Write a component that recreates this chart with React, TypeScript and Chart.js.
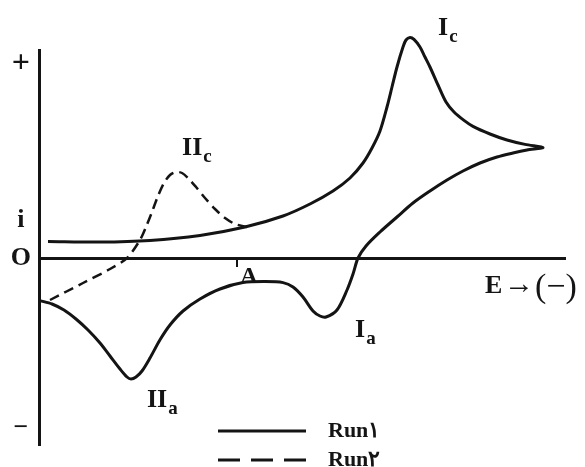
import { useEffect, useRef } from "react";
import { Chart, registerables } from "chart.js";

Chart.register(...registerables);

// Run 1 (solid): forward scan then reverse scan. E and i in arbitrary units.
const run1E = [
  1.71, 11.6, 21.1, 30.61, 39.16, 46.39, 51.52, 55.89, 59.13, 61.6, 63.31, 64.83, 66.16, 67.11,
  68.06, 69.2, 69.77, 70.53, 71.29, 72.43, 73.38, 74.33, 75.86, 77.38, 78.9, 80.8, 82.51, 85.74,
  88.97, 92.4, 95.82,
  92.78, 90.11, 87.07, 83.84, 80.61, 77.57, 74.33, 71.1, 68.06, 64.83, 62.17, 60.65, 59.7, 58.56,
  56.65, 54.56, 53.42, 52.09, 50.19, 48.29, 46.39, 42.97, 38.78, 34.41, 30.61, 27.38, 24.9, 22.98,
  21.1, 19.58, 18.44, 17.49, 16.73, 15.4, 13.5, 11.6, 9.32, 7.03, 4.75, 2.47, 0.19,
];
const run1I = [
  0.83, 0.8, 0.88, 1.13, 1.55, 2.1, 2.7, 3.35, 4.0, 4.75, 5.5, 6.35, 7.55, 8.55,
  9.55, 10.55, 10.9, 11.03, 10.93, 10.55, 10.05, 9.55, 8.65, 7.8, 7.3, 6.88, 6.58, 6.2,
  5.9, 5.68, 5.53,
  5.4, 5.25, 5.05, 4.75, 4.35, 3.9, 3.35, 2.75, 2.05, 1.3, 0.6, 0, -0.8, -1.6,
  -2.6, -2.95, -2.9, -2.65, -1.95, -1.45, -1.23, -1.18, -1.23, -1.55, -2.05, -2.65, -3.35, -4.1,
  -5.0, -5.65, -5.95, -6.05, -5.95, -5.55, -4.9, -4.25, -3.6, -3.05, -2.6, -2.3, -2.13,
];

// Run 2 (dashed)
const run2E = [
  2.09, 8.37, 13.5, 16.73, 19.2, 20.34, 21.48, 22.62, 23.76, 24.9, 26.05, 27.19, 28.33, 29.85,
  31.56, 33.46, 35.37, 37.27, 39.54,
];
const run2I = [
  -2.1, -1.25, -0.55, 0, 0.9, 1.55, 2.3, 3.1, 3.75, 4.15, 4.3, 4.25, 4.0, 3.55,
  3.0, 2.45, 2.0, 1.7, 1.55,
];

const seriesNames = ["Run۱", "Run۲"];

const yTickValues = [9.7, 1.9, 0, -8.5];
const yTickLabels = ["+", "i", "O", "−"];
const xTickValues = [37.64];
const xTickLabels = ["A"];

const peakLabels = [
  { main: "I", sub: "c", e: 75.86, i: 11.15 },
  { main: "II", sub: "c", e: 27.19, i: 5.15 },
  { main: "I", sub: "a", e: 60.08, i: -3.95 },
  { main: "II", sub: "a", e: 20.53, i: -7.45 },
];
const axisTitleMain = "E";
const axisTitleArrow = "→";
const axisTitleSign = "(−)";

const INK = "#141414";
const SERIF = '"Liberation Serif", "DejaVu Serif", serif';

const annotate = {
  id: "annotate",
  afterDraw(chart: any) {
    const { ctx, scales, chartArea } = chart;
    const x = scales.x;
    const y = scales.y;
    ctx.save();
    ctx.fillStyle = INK;
    ctx.textBaseline = "alphabetic";
    ctx.textAlign = "left";
    for (const p of peakLabels) {
      const px = x.getPixelForValue(p.e);
      const py = y.getPixelForValue(p.i);
      ctx.font = `bold 26px ${SERIF}`;
      ctx.fillText(p.main, px, py);
      const w = ctx.measureText(p.main).width;
      ctx.font = `bold 19px ${SERIF}`;
      ctx.fillText(p.sub, px + w + 1, py + 7);
    }
    const y0 = y.getPixelForValue(0);
    ctx.font = `bold 26px ${SERIF}`;
    ctx.fillText(axisTitleMain, chartArea.right - 80, y0 + 35);
    ctx.font = `bold 30px ${SERIF}`;
    ctx.fillText(axisTitleArrow, chartArea.right - 61, y0 + 35);
    ctx.font = `34px ${SERIF}`;
    ctx.fillText(axisTitleSign, chartArea.right - 30, y0 + 39);

    // legend
    const rows = [431, 460];
    chart.data.datasets.forEach((ds: any, k: number) => {
      const ry = rows[k];
      ctx.save();
      ctx.strokeStyle = ds.borderColor;
      ctx.lineWidth = 3;
      ctx.setLineDash(k === 1 ? [22, 11] : []);
      ctx.beginPath();
      ctx.moveTo(218, ry);
      ctx.lineTo(306, ry);
      ctx.stroke();
      ctx.restore();
      ctx.font = `bold 22px ${SERIF}`;
      ctx.textBaseline = "middle";
      ctx.fillText(ds.label, 328, ry);
    });
    ctx.restore();
  },
};

export default function App() {
  const ref = useRef<HTMLCanvasElement | null>(null);
  useEffect(() => {
    if (!ref.current) return;
    const chart = new Chart(ref.current, {
      type: "line",
      data: {
        datasets: [
          {
            label: seriesNames[0],
            data: run1E.map((e, k) => ({ x: e, y: run1I[k] })),
            borderColor: INK,
            borderWidth: 3,
            pointRadius: 0,
            tension: 0.3,
            fill: false,
            clip: false,
          },
          {
            label: seriesNames[1],
            data: run2E.map((e, k) => ({ x: e, y: run2I[k] })),
            borderColor: INK,
            borderWidth: 2.5,
            borderDash: [10, 6],
            pointRadius: 0,
            tension: 0.3,
            fill: false,
            clip: false,
          },
        ],
      },
      options: {
        animation: false,
        responsive: false,
        layout: { padding: { top: 50, right: 20, bottom: 22, left: 0 } },
        plugins: { legend: { display: false }, tooltip: { enabled: false } },
        scales: {
          x: {
            type: "linear",
            min: 0,
            max: 100,
            position: { y: 0 } as any,
            grid: { display: true, drawOnChartArea: false, drawTicks: true, tickLength: 7, color: INK, lineWidth: 2 },
            border: { display: true, color: INK, width: 3 },
            afterBuildTicks: (s: any) => {
              s.ticks = xTickValues.map((v) => ({ value: v }));
            },
            afterFit: (s: any) => {
              s.paddingLeft = 0;
              s.paddingRight = 0;
            },
            ticks: {
              callback: (_v: any, i: number) => xTickLabels[i],
              font: { family: SERIF, size: 24, weight: "bold" },
              color: INK,
              padding: -3,
              labelOffset: 12,
              autoSkip: false,
              maxRotation: 0,
            },
          },
          y: {
            type: "linear",
            min: -9.35,
            max: 10.4,
            grid: { display: false, drawTicks: false },
            border: { display: true, color: INK, width: 3 },
            afterBuildTicks: (s: any) => {
              s.ticks = yTickValues.map((v) => ({ value: v }));
            },
            afterFit: (s: any) => {
              s.width = 39;
              s.paddingTop = 0;
              s.paddingBottom = 0;
            },
            ticks: {
              callback: (_v: any, i: number) => yTickLabels[i],
              font: (c: any) => ({ family: SERIF, size: c.index === 0 ? 32 : 26, weight: "bold" }),
              color: INK,
              padding: 8,
              crossAlign: "center",
              autoSkip: false,
            },
          },
        },
      },
      plugins: [annotate],
    } as any);
    return () => chart.destroy();
  }, []);
  return (
    <div style={{ position: "fixed", left: 0, top: 0, width: 585, height: 467, background: "#fff" }}>
      <canvas ref={ref} width={585} height={467} />
    </div>
  );
}
